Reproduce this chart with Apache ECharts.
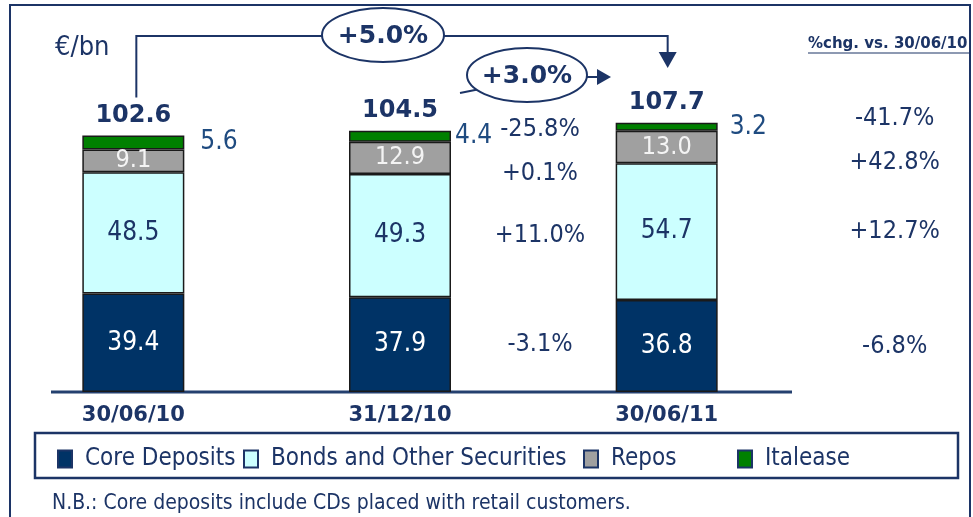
<!DOCTYPE html>
<html>
<head>
<meta charset="utf-8">
<script src="https://cdn.jsdelivr.net/npm/echarts@6/dist/echarts.min.js"></script>
<style>
  html, body { margin: 0; padding: 0; background: #fff; }
  #myChart { width: 973px; height: 517px; }
</style>
</head>
<body>
<div id="myChart"></div>
<script>
// data
const categories = ['30/06/10', '31/12/10', '30/06/11'];
const coreDeposits = [39.4, 37.9, 36.8];
const bondsOther = [48.5, 49.3, 54.7];
const repos = [9.1, 12.9, 13.0];
const italease = [5.6, 4.4, 3.2];
const totals = [102.6, 104.5, 107.7];
const seriesNames = ['Core Deposits', 'Bonds and Other Securities', 'Repos', 'Italease'];
// %chg vs 30/06/10 (core, bonds, repos, italease)
const chgDec10 = ['-3.1%', '+11.0%', '+0.1%', '-25.8%'];
const chgJun11 = ['-6.8%', '+12.7%', '+42.8%', '-41.7%'];
const growthYear = '+5.0%';
const growthHalf = '+3.0%';

const NAVY = '#1c3466';
const FONT = '"DejaVu Sans Condensed", "Liberation Sans", sans-serif';
const BOLD = '"DejaVu Sans", sans-serif';

const segStyle = (color) => ({ color: color, borderColor: '#1a1a1a', borderWidth: 1.5 });
const inLabel = (color, size) => ({
  show: true,
  position: 'inside',
  color: color,
  fontSize: size,
  fontFamily: FONT,
  formatter: (p) => p.value.toFixed(1),
});

const legendLeft = [57, 243, 583, 737];
const greenLabelGap = [16, 4, 12];

const myChart = echarts.init(document.getElementById('myChart'));
myChart.setOption({
  animation: false,
  grid: { left: 0, right: 173, top: 92, bottom: 125 },
  xAxis: {
    type: 'category',
    data: categories,
    axisLine: { show: false },
    axisTick: { show: false },
    axisLabel: { color: NAVY, fontWeight: 'bold', fontSize: 21, fontFamily: BOLD, margin: 13 },
  },
  yAxis: { type: 'value', min: 0, max: 120, show: false },
  legend: seriesNames.map((n, i) => ({
    data: [n],
    left: legendLeft[i],
    top: 447,
    padding: 0,
    icon: 'rect',
    itemWidth: 14,
    itemHeight: 17,
    selectedMode: false,
    itemStyle: { borderColor: NAVY, borderWidth: 2 },
    textStyle: { color: NAVY, fontSize: 24, fontFamily: FONT, padding: [0, 0, 0, 8] },
  })),
  series: [
    {
      name: seriesNames[0], type: 'bar', stack: 'a', barWidth: 102, barGap: '-100%',
      data: coreDeposits, itemStyle: segStyle('#003366'), label: inLabel('#ffffff', 26),
    },
    {
      name: seriesNames[1], type: 'bar', stack: 'a', barWidth: 102, barGap: '-100%',
      data: bondsOther, itemStyle: segStyle('#ccffff'), label: inLabel(NAVY, 26),
    },
    {
      name: seriesNames[2], type: 'bar', stack: 'a', barWidth: 102, barGap: '-100%',
      data: repos, itemStyle: segStyle('#a0a0a0'), label: inLabel('#f4f4f4', 25),
    },
    {
      name: seriesNames[3], type: 'bar', stack: 'a', barWidth: 102, barGap: '-100%',
      data: italease.map((v, i) => ({ value: v, label: { distance: greenLabelGap[i] } })),
      itemStyle: segStyle('#008000'),
      label: {
        show: true, position: 'right', distance: 12, color: '#1f4b80',
        fontSize: 26, fontFamily: FONT, formatter: (p) => p.value.toFixed(1),
      },
    },
    {
      name: 'Total', type: 'bar', barWidth: 102, barGap: '-100%', silent: true, z: 1,
      data: totals, itemStyle: { color: 'transparent' },
      label: {
        show: true, position: 'top', distance: 8, color: NAVY,
        fontWeight: 'bold', fontSize: 24, fontFamily: BOLD,
        formatter: (p) => p.value.toFixed(1),
      },
    },
  ],
});

// annotations placed through the chart scales
const px = (i, v) => myChart.convertToPixel({ gridIndex: 0 }, [i, v]);
const baseY = px(0, 0)[1];
const c0 = px(0, 0)[0];
const c2 = px(2, 0)[0];
const bracketEnd = px(0, totals[0])[1] - 8 - 30;
const segs = [coreDeposits, bondsOther, repos, italease];

function pctTexts(bar, labels, dx) {
  const ys = [];
  let base = 0;
  segs.forEach((s) => {
    ys.push(px(bar, base + s[bar] / 2)[1]);
    base += s[bar];
  });
  const gap = 44;
  if (ys[2] - ys[3] < gap) {
    const d = (gap - (ys[2] - ys[3])) / 2;
    ys[2] += d + 4;
    ys[3] -= d - 4;
  }
  const x = px(bar, 0)[0] + dx;
  return labels.map((t, k) => ({
    type: 'text', x: x, y: ys[k], silent: true,
    style: { text: t, fill: NAVY, fontSize: 25, fontFamily: FONT, align: 'center', verticalAlign: 'middle' },
  }));
}

const graphic = [
  { type: 'rect', silent: true, z: 0, shape: { x: 10, y: 5, width: 960, height: 540 }, style: { fill: 'none', stroke: NAVY, lineWidth: 2 } },
  { type: 'line', silent: true, shape: { x1: 51, y1: baseY, x2: 792, y2: baseY }, style: { stroke: '#24406f', lineWidth: 3 } },
  { type: 'rect', silent: true, shape: { x: 35, y: 433, width: 923, height: 45 }, style: { fill: 'none', stroke: NAVY, lineWidth: 2.5 } },
  { type: 'text', silent: true, x: 55, y: 48, style: { text: '€/bn', fill: NAVY, fontSize: 27, fontFamily: FONT, verticalAlign: 'middle' } },
  { type: 'text', silent: true, x: 808, y: 44, style: { text: '%chg. vs. 30/06/10', fill: NAVY, fontSize: 15, fontWeight: 'bold', fontFamily: BOLD, verticalAlign: 'middle' } },
  { type: 'line', silent: true, shape: { x1: 808, y1: 53, x2: 969, y2: 53 }, style: { stroke: NAVY, lineWidth: 1.2 } },
  { type: 'text', silent: true, x: 52, y: 504, style: { text: 'N.B.: Core deposits include CDs placed with retail customers.', fill: NAVY, fontSize: 21, fontFamily: FONT, verticalAlign: 'middle' } },
  // +5.0% bracket
  { type: 'polyline', silent: true, shape: { points: [[c0 + 3, bracketEnd], [c0 + 3, 36], [c2 + 1, 36], [c2 + 1, 54]] }, style: { stroke: NAVY, lineWidth: 2, fill: 'none' } },
  { type: 'polygon', silent: true, shape: { points: [[c2 - 8, 52], [c2 + 10, 52], [c2 + 1, 68]] }, style: { fill: NAVY } },
  { type: 'ellipse', silent: true, z: 5, shape: { cx: 383, cy: 35, rx: 61, ry: 27 }, style: { fill: '#fff', stroke: NAVY, lineWidth: 2 } },
  { type: 'text', silent: true, z: 6, x: 383, y: 36, style: { text: growthYear, fill: NAVY, fontSize: 25, fontWeight: 'bold', fontFamily: BOLD, align: 'center', verticalAlign: 'middle' } },
  // +3.0% arrow
  { type: 'line', silent: true, shape: { x1: 460, y1: 93, x2: 480, y2: 89 }, style: { stroke: NAVY, lineWidth: 2 } },
  { type: 'line', silent: true, shape: { x1: 586, y1: 77, x2: 600, y2: 77 }, style: { stroke: NAVY, lineWidth: 2 } },
  { type: 'polygon', silent: true, shape: { points: [[597, 69], [597, 85], [611, 77]] }, style: { fill: NAVY } },
  { type: 'ellipse', silent: true, z: 5, shape: { cx: 527, cy: 75, rx: 60, ry: 27 }, style: { fill: '#fff', stroke: NAVY, lineWidth: 2 } },
  { type: 'text', silent: true, z: 6, x: 527, y: 76, style: { text: growthHalf, fill: NAVY, fontSize: 25, fontWeight: 'bold', fontFamily: BOLD, align: 'center', verticalAlign: 'middle' } },
].concat(pctTexts(1, chgDec10, 140), pctTexts(2, chgJun11, 228));

myChart.setOption({ graphic: graphic });
</script>
</body>
</html>
